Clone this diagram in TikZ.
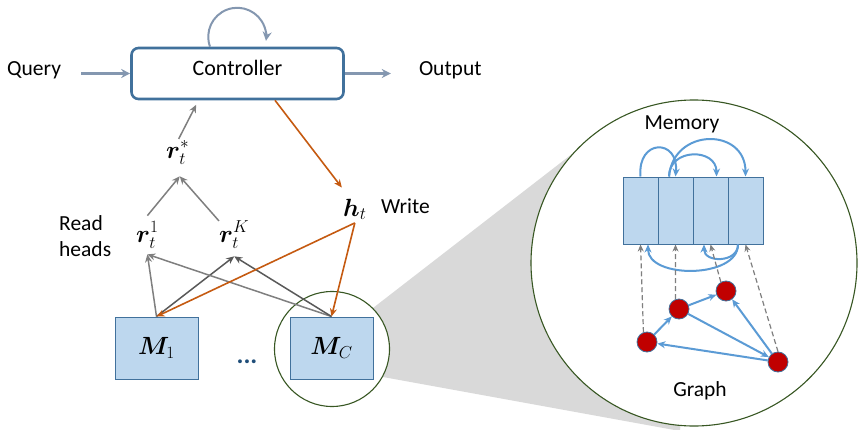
\documentclass[tikz,border=0pt]{standalone}
\usepackage{fontspec}
\setmainfont{Carlito}
\usepackage{amsmath}
\usepackage{bm}
\usetikzlibrary{arrows.meta,positioning}

\definecolor{ctrlblue}{HTML}{41719C}
\definecolor{flowgray}{HTML}{8497B0}
\definecolor{cellfill}{HTML}{BDD7EE}
\definecolor{writeorange}{HTML}{C55A11}
\definecolor{linkblue}{HTML}{5B9BD5}
\definecolor{nodered}{HTML}{C00000}
\definecolor{ringgreen}{HTML}{385723}
\definecolor{readgray}{HTML}{7F7F7F}
\definecolor{readdark}{HTML}{595959}
\definecolor{dotblue}{HTML}{1F4E79}
\definecolor{wedgegray}{HTML}{D9D9D9}

\begin{document}
\begin{tikzpicture}[x=1pt, y=1pt, node distance=20pt,
    txt/.style={font=\fontsize{21.5}{25}\selectfont, inner sep=0pt, text height=0.7em, text depth=0.2em},
    sym/.style={font=\fontsize{26}{30}\selectfont, inner sep=0pt},
    ctrl/.style={rectangle, rounded corners=7pt, draw=ctrlblue, line width=2.6pt, fill=white, minimum width=212pt, minimum height=51pt, font=\fontsize{22}{26}\selectfont, text height=0.7em, text depth=0.2em},
    membox/.style={rectangle, draw=ctrlblue, line width=1pt, fill=cellfill, minimum width=83pt, minimum height=62pt, font=\fontsize{26}{30}\selectfont},
    cellbox/.style={rectangle, draw=ctrlblue, line width=1pt, fill=cellfill, minimum width=35pt, minimum height=67pt},
    gnode/.style={circle, draw=ctrlblue, line width=0.8pt, fill=nodered, minimum size=20pt, inner sep=0pt},
    ring/.style={circle, draw=ringgreen, line width=1.1pt, fill=white, inner sep=0pt},
    flow/.style={draw=flowgray, line width=2.4pt, -{Stealth[length=9pt,width=9pt]}},
    readline/.style={draw=readgray, line width=1.5pt, -{Stealth[length=8pt,width=7pt]}},
    writeline/.style={draw=writeorange, line width=1.6pt, -{Stealth[length=8pt,width=7pt]}},
    link/.style={draw=linkblue, line width=2pt, -{Stealth[length=8pt,width=7pt]}},
    probe/.style={draw=readgray, line width=1.2pt, dash pattern=on 5pt off 3pt, -{Stealth[length=7pt,width=6pt]}}]

    \useasboundingbox (0,0) rectangle (858,429);

    \fill[wedgegray] (373,121) -- (590,289) -- (694,166) -- (680,-2) -- (383,52) -- cycle;
    \node[ring, minimum size=326pt] (zoom) at (694,166) {};
    \node[ring, minimum size=115pt] (lens) at (332,80) {};

    \node[ctrl] (controller) at (237.5,355.5) {Controller};
    \node[txt, left=69pt of controller] (query) {Query};
    \node[txt, right=74pt of controller] (output) {Output};

    \node[sym, anchor=base west] (rstar) at (166,271) {$\bm{r}_t^*$};
    \node[sym, anchor=base west] (rone) at (136,187) {$\bm{r}_t^1$};
    \node[sym, anchor=base west] (rk) at (219,187) {$\bm{r}_t^K$};
    \node[sym, anchor=base west] (ht) at (343,213) {$\bm{h}_t$};
    \node[txt, anchor=base west] (write) at (381,216) {Write};
    \node[font=\fontsize{21.5}{26}\selectfont, inner sep=0pt, align=left, anchor=west] (heads) at (59,193) {Read\\heads};

    \node[membox] (mone) at (156.5,81) {$\bm{M}_1$};
    \node[membox] (mc) at (331.5,81) {$\bm{M}_C$};
    \node[txt, text=dotblue, font=\fontsize{26}{30}\selectfont\bfseries] (dots) at (247,68) {...};

    \coordinate (join) at ([xshift=2pt,yshift=-12pt]rstar.south);
    \coordinate (ronein) at ([yshift=-6pt]rone.south);
    \coordinate (rkin) at ([yshift=-8pt]rk.south);
    \coordinate (htout) at ([yshift=-3pt]ht.south);

    \draw[flow, shorten <=20pt] (query) -- (controller);
    \draw[flow, shorten >=28pt] (controller) -- (output);
    \draw[flow, line width=2pt] ([xshift=-27.5pt]controller.north) arc[start angle=200, end angle=-8, radius=29pt];

    \draw[readline, shorten >=5pt, shorten <=2pt] (rstar.north) -- ([xshift=-39pt]controller.south);
    \draw[readline] ([yshift=6pt]rone.north) -- (join);
    \draw[readline] (rk.north west) -- (join);

    \draw[readline] (mone.north) -- (ronein);
    \draw[readline, draw=readdark] (mone.north) -- (rkin);
    \draw[readline] (mc.north) -- (ronein);
    \draw[readline, draw=readdark] (mc.north) -- (rkin);

    \draw[writeline] ([xshift=37.5pt]controller.south) -- ([xshift=-13pt,yshift=11pt]ht.north);
    \draw[writeline] (htout) -- (mone.north);
    \draw[writeline] (htout) -- (mc.north);

    \foreach \i in {1,...,4}
        \node[cellbox] (cell\i) at ({605.5+35*\i},218.5) {};
    \node[txt, anchor=base] (memory) at (682,299) {Memory};

    \draw[link] (cell1.north) to[out=95, in=85, looseness=2.8] (cell2.north);
    \draw[link] ([xshift=-6.5pt]cell2.north) to[out=90, in=90, looseness=1.55] ([xshift=6pt]cell3.north);
    \draw[link] ([xshift=-6.5pt]cell2.north) to[out=85, in=90, looseness=1.65] (cell4.north);
    \draw[link] ([xshift=-7.5pt]cell4.south) to[out=-90, in=-90, looseness=0.98] ([xshift=7.5pt]cell1.south);
    \draw[link] ([xshift=-7.5pt]cell4.south) to[out=-90, in=-90, looseness=1.4] ([xshift=-6.5pt]cell3.south);

    \node[gnode] (n1) at (647,87) {};
    \node[gnode] (n2) at (679,120) {};
    \node[gnode] (n3) at (726,138) {};
    \node[gnode] (n4) at (778,67) {};
    \node[txt, anchor=base] (graph) at (700,33) {Graph};

    \draw[probe] (n1.110) -- (cell1.south);
    \draw[probe] (n2.110) -- (cell2.south);
    \draw[probe] (n3.120) -- (cell3.south);
    \draw[probe] (n4.north) -- (cell4.south);

    \draw[link] (n1) -- (n2);
    \draw[link] (n2) -- (n3);
    \draw[link] (n2) -- (n4);
    \draw[link] (n4) -- (n3);
    \draw[link] (n4) -- (n1);

\end{tikzpicture}
\end{document}
